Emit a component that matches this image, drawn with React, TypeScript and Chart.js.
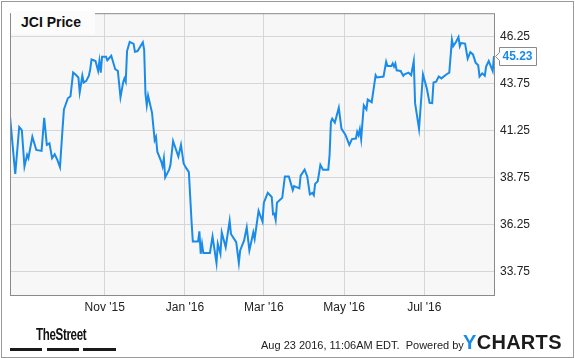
import React, { useEffect, useRef } from "react";
import { Chart, registerables } from "chart.js";

Chart.register(...registerables);

// Day offsets from Aug 24, 2015
const days = [-3,1,4,6,8,10,11,14,17,21,23,25,27,29,31,33,35,37,38,41,43,45,47,49,50,52,53,55,57,58,59,62,64,65,66,67,70,71,74,77,79,81,83,84,85,86,88,91,92,94,98,99,100,101,102,105,107,108,109,112,113,114,115,118,119,121,125,127,129,131,133,135,136,140,141,142,143,144,149,151,154,155,157,158,161,164,165,169,171,172,175,177,179,182,183,186,189,190,193,196,197,198,199,200,204,206,209,212,213,217,218,221,223,225,227,228,229,231,233,235,239,240,241,242,244,247,249,252,255,257,260,261,262,263,264,266,268,269,272,275,276,281,283,284,287,288,289,290,291,294,296,297,300,302,304,305,308,311,314,316,318,319,321,323,325,329,331,333,334,336,338,339,340,343,345,347,349,351,353,354,356,358,359,361,362,364,365];

const prices = [42.01,38.94,41.45,41.28,39.34,39.96,39.78,40.92,40.22,40.17,41.93,40.49,40.57,39.78,39.99,39.69,39.30,41.40,42.38,42.98,43.09,44.35,44.23,44.09,43.30,44.18,43.82,43.91,44.18,44.53,45.05,44.97,44.44,44.97,44.35,45.20,45.20,45.01,45.25,44.53,44.44,43.03,43.82,44.04,43.86,45.50,45.99,45.88,45.46,45.50,45.97,45.58,43.21,42.60,43.12,42.20,40.75,40.92,40.13,39.60,39.34,39.78,38.76,39.17,39.43,40.70,39.87,40.50,39.50,39.25,39.04,36.44,35.33,35.33,35.88,34.68,35.21,34.72,34.72,35.60,34.19,35.21,34.68,35.82,35.03,36.44,35.74,35.30,34.19,34.86,35.39,36.09,34.86,35.82,35.48,36.97,36.40,37.41,37.93,37.71,36.79,36.82,36.49,37.41,37.67,38.81,38.81,38.08,38.29,38.17,38.85,39.17,38.81,37.85,37.93,37.81,38.41,38.55,39.43,39.17,39.17,39.96,41.71,41.89,41.68,42.47,41.36,41.04,40.49,40.80,40.83,41.19,41.01,41.33,40.80,42.60,42.38,42.91,42.77,44.21,44.09,44.14,44.93,44.70,44.70,44.84,44.67,44.84,44.47,44.44,44.18,44.26,44.35,44.21,44.97,42.72,41.35,44.25,43.47,42.74,42.72,43.82,43.86,44.14,44.04,44.26,44.35,46.11,45.76,45.97,46.25,45.76,45.93,45.90,45.09,45.44,45.32,44.88,44.74,44.14,44.31,44.18,44.67,44.97,44.79,44.44,45.23];

const xTickDays = [69, 130, 190, 251, 312];
const xTickLabels = ["Nov '15", "Jan '16", "Mar '16", "May '16", "Jul '16"];
const yTicks = [33.75, 36.25, 38.75, 41.25, 43.75, 46.25];

const title = "JCI Price";
const footerStamp = "Aug 23 2016, 11:06AM EDT.  Powered by";

const BLUE = "#1a8be8";
const FONT = '"Liberation Sans", Arial, Helvetica, sans-serif';

export default function App() {
  const ref = useRef<HTMLCanvasElement | null>(null);

  useEffect(() => {
    document.body.style.margin = "0";
    const canvas = ref.current;
    if (!canvas) return;

    const framePlugin = {
      id: "frame",
      beforeDraw(chart: any) {
        const { ctx, chartArea: a } = chart;
        ctx.save();
        ctx.fillStyle = "#f7f7f7";
        ctx.fillRect(a.left, a.top, a.right - a.left, a.bottom - a.top);
        ctx.restore();
      },
      afterDatasetsDraw(chart: any) {
        const { ctx, chartArea: a } = chart;
        ctx.save();
        ctx.strokeStyle = "#8a8a8a";
        ctx.lineWidth = 1;
        ctx.strokeRect(a.left + 0.5, a.top + 0.5, a.right - a.left, a.bottom - a.top);
        // last value label
        const last = prices[prices.length - 1];
        const y = Math.round(chart.scales.y.getPixelForValue(last)) + 0.5;
        const x0 = a.right + 1.5;
        const bx = x0 + 4;
        const bw = 37;
        const h = 9;
        ctx.beginPath();
        ctx.moveTo(x0, y);
        ctx.lineTo(bx, y - 4);
        ctx.lineTo(bx, y - h);
        ctx.lineTo(bx + bw, y - h);
        ctx.lineTo(bx + bw, y + h);
        ctx.lineTo(bx, y + h);
        ctx.lineTo(bx, y + 4);
        ctx.closePath();
        ctx.fillStyle = "#ffffff";
        ctx.fill();
        ctx.strokeStyle = "#8a8a8a";
        ctx.stroke();
        ctx.fillStyle = BLUE;
        ctx.font = "bold 12px " + FONT;
        ctx.textBaseline = "middle";
        ctx.textAlign = "left";
        ctx.fillText(last.toFixed(2), bx + 3, y + 0.5);
        ctx.restore();
      },
    };

    const chart = new Chart(canvas, {
      type: "line",
      data: {
        datasets: [
          {
            data: days.map((d, i) => ({ x: d, y: prices[i] })),
            borderColor: BLUE,
            borderWidth: 2,
            pointRadius: 0,
            tension: 0,
            fill: false,
          },
        ],
      },
      options: {
        responsive: false,
        animation: false,
        parsing: false as any,
        layout: { padding: { left: 10, top: 10, right: 0, bottom: 0 } },
        plugins: { legend: { display: false }, tooltip: { enabled: false }, title: { display: false } },
        scales: {
          x: {
            type: "linear",
            min: -3,
            max: 365,
            afterFit(s: any) { s.height = 63; },
            afterBuildTicks(s: any) { s.ticks = xTickDays.map((v) => ({ value: v })); },
            grid: { color: "#d6d6d6", lineWidth: 1, drawTicks: false },
            border: { display: false },
            ticks: {
              autoSkip: false,
              maxRotation: 0,
              padding: 5,
              color: "#222",
              font: { family: FONT, size: 12 },
              callback: (v: any) => {
                const i = xTickDays.indexOf(Number(v));
                return i >= 0 ? xTickLabels[i] : "";
              },
            },
          },
          y: {
            type: "linear",
            position: "right",
            min: 32.48,
            max: 47.52,
            afterFit(s: any) { s.width = 81; },
            afterBuildTicks(s: any) { s.ticks = yTicks.map((v) => ({ value: v })); },
            grid: { color: "#d6d6d6", lineWidth: 1, drawTicks: false },
            border: { display: false },
            ticks: {
              padding: 6,
              color: "#222",
              font: { family: FONT, size: 12 },
              callback: (v: any) => Number(v).toFixed(2),
            },
          },
        },
      },
      plugins: [framePlugin],
    });

    return () => chart.destroy();
  }, []);

  return (
    <div style={{ position: "fixed", left: 0, top: 0, width: 575, height: 358, background: "#fff", overflow: "hidden", fontFamily: FONT }}>
      <div style={{ position: "absolute", left: 1, top: 1, width: 571, height: 355, border: "1px solid #9a9a9a" }} />
      <canvas ref={ref} width={575} height={358} style={{ position: "absolute", left: 0, top: 0, display: "block" }} />
      <div style={{ position: "absolute", left: 11, top: 11, width: 84, height: 23, background: "#fcfcfc", fontWeight: "bold", fontSize: 14, lineHeight: "23px", color: "#111", paddingLeft: 10, boxSizing: "border-box" }}>{title}</div>
      <div style={{ position: "absolute", left: 36, top: 326, fontWeight: "bold", fontSize: 17, lineHeight: "18px", color: "#111", letterSpacing: -0.5, transform: "scaleX(0.68)", transformOrigin: "0 0", whiteSpace: "nowrap" }}>TheStreet</div>
      <div style={{ position: "absolute", left: 10, top: 348, width: 32, height: 3, background: "#1a1a1a" }} />
      <div style={{ position: "absolute", left: 47, top: 348, width: 32, height: 3, background: "#1a1a1a" }} />
      <div style={{ position: "absolute", left: 83, top: 348, width: 33, height: 3, background: "#1a1a1a" }} />
      <div style={{ position: "absolute", left: 261, top: 337, fontSize: 11, lineHeight: "16px", color: "#222", whiteSpace: "pre" }}>{footerStamp}</div>
      <div style={{ position: "absolute", left: 463, top: 331, fontSize: 20, fontWeight: "bold", lineHeight: "22px", color: "#1b1b1b", letterSpacing: 0.3, whiteSpace: "nowrap" }}>
        <span style={{ color: BLUE }}>Y</span>CHARTS
      </div>
    </div>
  );
}
